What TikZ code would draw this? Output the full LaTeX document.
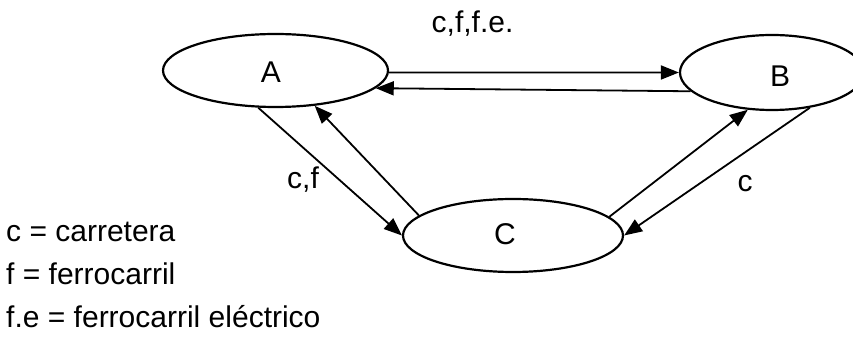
\documentclass[tikz,border=0pt]{standalone}
\usepackage{fontspec}
\setmainfont{Liberation Sans}
\usetikzlibrary{arrows.meta,shapes.geometric}
\begin{document}
\begin{tikzpicture}[x=1pt,y=-1pt,
  place/.style={draw, ellipse, line width=2.2pt, inner sep=0pt},
  lbl/.style={font=\fontsize{30}{36}\selectfont, inner sep=0pt},
  conn/.style={line width=1.8pt, -{Triangle[length=18pt,width=14pt]}}]
\useasboundingbox (0,0) rectangle (853,352);
% places
\node[place, minimum width=225pt, minimum height=73pt] (A) at (275.5,70.5) {};
\node[place, minimum width=184pt, minimum height=75pt] (B) at (772,72.5) {};
\node[place, minimum width=220pt, minimum height=73pt] (C) at (513,235.5) {};
\node[lbl] (At) at (271,72) {A};
\node[lbl] (Bt) at (780,76) {B};
\node[lbl] (Ct) at (505,234) {C};
% connectors
\draw[conn] (A.-1.3) -- (B.180);
\draw[conn] (B.-167.9) -- (A.-10.3);
\draw[conn] (A.-115) -- (C.180);
\draw[conn] (C.168.4) -- (A.-42.5);
\draw[conn] (C.11) -- (B.-123.5);
\draw[conn] (B.-43.8) -- (C.-0.8);
% labels
\node[lbl, anchor=base] (l1) at (472.5,33) {c,f,f.e.};
\node[lbl, anchor=base] (l2) at (303,189) {c,f};
\node[lbl, anchor=base] (l3) at (745,192) {c};
% legend
\node[lbl, anchor=base west] (g1) at (6,242) {c = carretera};
\node[lbl, anchor=base west] (g2) at (6,285) {f = ferrocarril};
\node[lbl, anchor=base west] (g3) at (6,327) {f.e = ferrocarril eléctrico};
\end{tikzpicture}
\end{document}
